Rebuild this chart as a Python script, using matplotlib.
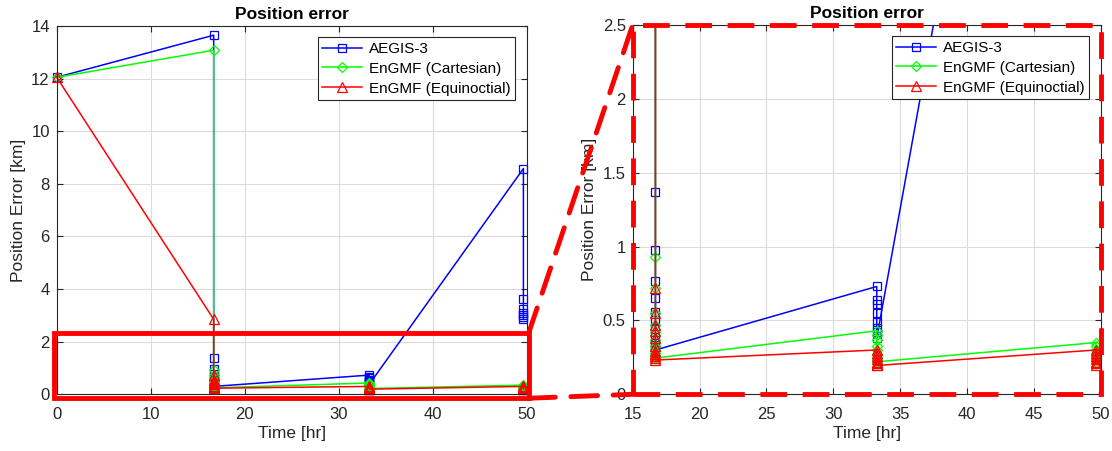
import matplotlib
matplotlib.use("Agg")
import matplotlib.pyplot as plt
from matplotlib.patches import Rectangle, ConnectionPatch

# ---- data ----
time_hr = [0.0,
           16.7, 16.7, 16.7, 16.7, 16.7, 16.7, 16.7, 16.7, 16.7, 16.7, 16.7, 16.7,
           33.25, 33.25, 33.25, 33.25, 33.25, 33.25, 33.25, 33.25,
           49.65, 49.65, 49.65, 49.65, 49.65, 49.65, 49.65]

aegis3 = [12.05,
          13.65, 1.37, 0.98, 0.77, 0.65, 0.56, 0.50, 0.44, 0.39, 0.35, 0.32, 0.30,
          0.73, 0.64, 0.61, 0.55, 0.49, 0.45, 0.42, 0.38,
          8.58, 3.62, 3.25, 3.10, 3.00, 2.92, 2.87]

engmf_cart = [12.05,
              13.08, 0.93, 0.72, 0.55, 0.47, 0.42, 0.37, 0.33, 0.30, 0.28, 0.26, 0.245,
              0.43, 0.40, 0.37, 0.33, 0.30, 0.27, 0.24, 0.22,
              0.35, 0.33, 0.30, 0.28, 0.26, 0.24, 0.22]

engmf_equi = [12.05,
              2.85, 0.72, 0.55, 0.47, 0.43, 0.38, 0.33, 0.29, 0.27, 0.26, 0.245, 0.232,
              0.30, 0.28, 0.26, 0.24, 0.22, 0.21, 0.20, 0.195,
              0.30, 0.28, 0.26, 0.24, 0.22, 0.21, 0.20]

labels = ["AEGIS-3", "EnGMF (Cartesian)", "EnGMF (Equinoctial)"]
series = [aegis3, engmf_cart, engmf_equi]
colors = ["#0000ff", "#00ff00", "#ff0000"]
markers = ["s", "D", "^"]
msizes = [5.5, 5.5, 6.5]

plt.rcParams['font.family'] = ['Liberation Sans', 'DejaVu Sans']

W, H = 1112, 451
fig = plt.figure(figsize=(W / 100, H / 100), dpi=100)

ax1 = fig.add_axes([56.7 / W, 1 - 394.3 / H, 470 / W, 368.3 / H])
ax2 = fig.add_axes([632.7 / W, 1 - 394.3 / H, 468 / W, 369.3 / H])


def style(ax):
    ax.grid(True, color="#dcdcdc", linewidth=0.8)
    ax.set_axisbelow(True)
    ax.tick_params(direction="in", length=4, width=0.8, top=True, right=True,
                   labelsize=12, colors="#262626", pad=5)
    ax.tick_params(axis="x", pad=9)
    for s in ax.spines.values():
        s.set_color("#262626")
        s.set_linewidth(0.8)
    ax.set_title("Position error", fontsize=12.5, fontweight="bold", pad=5)
    ax.set_xlabel("Time [hr]", fontsize=12.5, color="#262626", labelpad=3)
    ax.set_ylabel("Position Error [km]", fontsize=12.5, color="#262626", labelpad=4)


for ax, clip in [(ax1, False), (ax2, True)]:
    for y, lab, c, m, ms in zip(series, labels, colors, markers, msizes):
        ax.plot(time_hr, y, color=c, marker=m, markersize=ms, markerfacecolor="none",
                markeredgecolor=c, markeredgewidth=0.9, linewidth=1.1, label=lab,
                clip_on=clip)
    style(ax)
    leg = ax.legend(loc="upper right", fontsize=11, fancybox=False, framealpha=1,
                    edgecolor="#262626", borderpad=0.3, labelspacing=0.38,
                    handlelength=2.6, handletextpad=0.45, borderaxespad=0.75)
    leg.get_frame().set_linewidth(0.8)

ax1.set_xlim(0, 50)
ax1.set_ylim(0, 14)
ax1.set_xticks([0, 10, 20, 30, 40, 50])
ax1.set_yticks([0, 2, 4, 6, 8, 10, 12, 14])

ax2.set_xlim(15, 50)
ax2.set_ylim(0, 2.5)
ax2.set_xticks([15, 20, 25, 30, 35, 40, 45, 50])
ax2.set_yticks([0, 0.5, 1, 1.5, 2, 2.5])
ax2.set_yticklabels(["0", "0.5", "1", "1.5", "2", "2.5"])

# zoom box on the left axes
rx0, ry0, rx1, ry1 = -0.3, -0.15, 50.2, 2.32
ax1.add_patch(Rectangle((rx0, ry0), rx1 - rx0, ry1 - ry0, fill=False,
                        edgecolor="#ff0000", linewidth=3.5, clip_on=False, zorder=5))

dash = (0, (5.5, 3.2))
ax2.add_patch(Rectangle((0, 0), 1, 1, transform=ax2.transAxes, fill=False,
                        edgecolor="#ff0000", linewidth=3.5, linestyle=dash,
                        clip_on=False, zorder=6))

for yA, yB in [(ry1, 1), (ry0, 0)]:
    cp = ConnectionPatch(xyA=(rx1, yA), coordsA=ax1.transData,
                         xyB=(0, yB), coordsB=ax2.transAxes,
                         color="#ff0000", linewidth=3.5, linestyle=dash, zorder=6)
    fig.add_artist(cp)

fig.savefig("out.png", dpi=100)
